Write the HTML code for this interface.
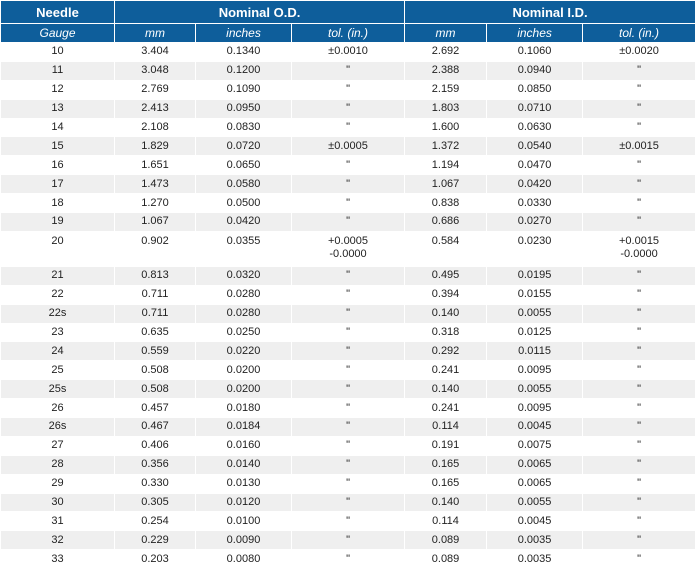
<!DOCTYPE html>
<html><head><style>
body{margin:0;background:#fff;}
table{border-collapse:collapse;width:695px;table-layout:fixed;font-family:"Liberation Sans",Arial,sans-serif;font-size:11px;color:#222;}
td,th{text-align:center;padding:0;border:1px solid #fff;box-sizing:border-box;line-height:13px;}
td{height:18.9px;}
th{background:#0e5e9b;color:#fff;}
tr.h1 th{font-size:13px;font-weight:bold;height:23px;}
tr.h2 th{font-weight:normal;font-style:italic;font-size:12px;height:19px;}
tr.g td{background:#efefef;}
tr.dbl td{height:35px;vertical-align:top;padding-top:3px;}
</style></head><body>
<table>
<colgroup><col style="width:114px"><col style="width:81px"><col style="width:96px"><col style="width:113px"><col style="width:82px"><col style="width:96px"><col style="width:113px"></colgroup>
<thead>
<tr class="h1"><th>Needle</th><th colspan="3">Nominal O.D.</th><th colspan="3">Nominal I.D.</th></tr>
<tr class="h2"><th>Gauge</th><th>mm</th><th>inches</th><th>tol. (in.)</th><th>mm</th><th>inches</th><th>tol. (in.)</th></tr>
</thead>
<tbody>
<tr><td>10</td><td>3.404</td><td>0.1340</td><td>±0.0010</td><td>2.692</td><td>0.1060</td><td>±0.0020</td></tr>
<tr class="g"><td>11</td><td>3.048</td><td>0.1200</td><td>"</td><td>2.388</td><td>0.0940</td><td>"</td></tr>
<tr><td>12</td><td>2.769</td><td>0.1090</td><td>"</td><td>2.159</td><td>0.0850</td><td>"</td></tr>
<tr class="g"><td>13</td><td>2.413</td><td>0.0950</td><td>"</td><td>1.803</td><td>0.0710</td><td>"</td></tr>
<tr><td>14</td><td>2.108</td><td>0.0830</td><td>"</td><td>1.600</td><td>0.0630</td><td>"</td></tr>
<tr class="g"><td>15</td><td>1.829</td><td>0.0720</td><td>±0.0005</td><td>1.372</td><td>0.0540</td><td>±0.0015</td></tr>
<tr><td>16</td><td>1.651</td><td>0.0650</td><td>"</td><td>1.194</td><td>0.0470</td><td>"</td></tr>
<tr class="g"><td>17</td><td>1.473</td><td>0.0580</td><td>"</td><td>1.067</td><td>0.0420</td><td>"</td></tr>
<tr><td>18</td><td>1.270</td><td>0.0500</td><td>"</td><td>0.838</td><td>0.0330</td><td>"</td></tr>
<tr class="g"><td>19</td><td>1.067</td><td>0.0420</td><td>"</td><td>0.686</td><td>0.0270</td><td>"</td></tr>
<tr class="dbl"><td>20</td><td>0.902</td><td>0.0355</td><td>+0.0005<br>-0.0000</td><td>0.584</td><td>0.0230</td><td>+0.0015<br>-0.0000</td></tr>
<tr class="g"><td>21</td><td>0.813</td><td>0.0320</td><td>"</td><td>0.495</td><td>0.0195</td><td>"</td></tr>
<tr><td>22</td><td>0.711</td><td>0.0280</td><td>"</td><td>0.394</td><td>0.0155</td><td>"</td></tr>
<tr class="g"><td>22s</td><td>0.711</td><td>0.0280</td><td>"</td><td>0.140</td><td>0.0055</td><td>"</td></tr>
<tr><td>23</td><td>0.635</td><td>0.0250</td><td>"</td><td>0.318</td><td>0.0125</td><td>"</td></tr>
<tr class="g"><td>24</td><td>0.559</td><td>0.0220</td><td>"</td><td>0.292</td><td>0.0115</td><td>"</td></tr>
<tr><td>25</td><td>0.508</td><td>0.0200</td><td>"</td><td>0.241</td><td>0.0095</td><td>"</td></tr>
<tr class="g"><td>25s</td><td>0.508</td><td>0.0200</td><td>"</td><td>0.140</td><td>0.0055</td><td>"</td></tr>
<tr><td>26</td><td>0.457</td><td>0.0180</td><td>"</td><td>0.241</td><td>0.0095</td><td>"</td></tr>
<tr class="g"><td>26s</td><td>0.467</td><td>0.0184</td><td>"</td><td>0.114</td><td>0.0045</td><td>"</td></tr>
<tr><td>27</td><td>0.406</td><td>0.0160</td><td>"</td><td>0.191</td><td>0.0075</td><td>"</td></tr>
<tr class="g"><td>28</td><td>0.356</td><td>0.0140</td><td>"</td><td>0.165</td><td>0.0065</td><td>"</td></tr>
<tr><td>29</td><td>0.330</td><td>0.0130</td><td>"</td><td>0.165</td><td>0.0065</td><td>"</td></tr>
<tr class="g"><td>30</td><td>0.305</td><td>0.0120</td><td>"</td><td>0.140</td><td>0.0055</td><td>"</td></tr>
<tr><td>31</td><td>0.254</td><td>0.0100</td><td>"</td><td>0.114</td><td>0.0045</td><td>"</td></tr>
<tr class="g"><td>32</td><td>0.229</td><td>0.0090</td><td>"</td><td>0.089</td><td>0.0035</td><td>"</td></tr>
<tr><td>33</td><td>0.203</td><td>0.0080</td><td>"</td><td>0.089</td><td>0.0035</td><td>"</td></tr>
</tbody>
</table>
</body></html>
